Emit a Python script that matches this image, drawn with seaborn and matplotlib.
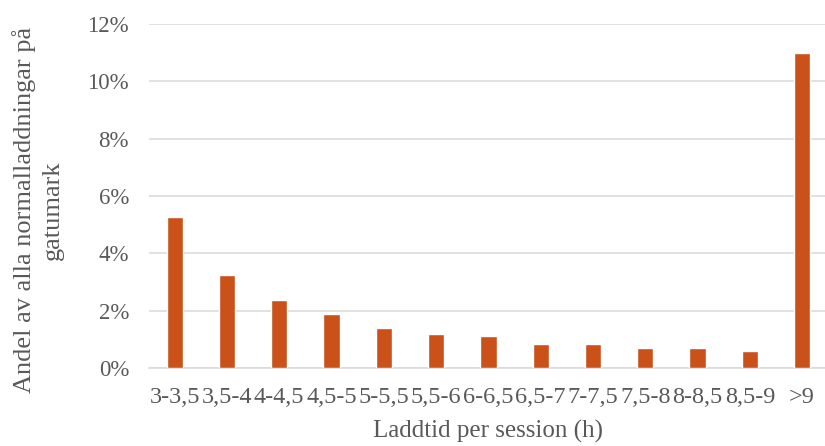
import matplotlib
matplotlib.use("Agg")
import matplotlib.pyplot as plt
import seaborn as sns
import pandas as pd
from matplotlib.ticker import PercentFormatter

# Share of street-side normal charging sessions by session duration
categories = ["3-3,5", "3,5-4", "4-4,5", "4,5-5", "5-5,5", "5,5-6", "6-6,5",
              "6,5-7", "7-7,5", "7,5-8", "8-8,5", "8,5-9", ">9"]
shares = [0.0527, 0.0325, 0.0237, 0.0188, 0.0140, 0.0119, 0.0113,
          0.0084, 0.0084, 0.0070, 0.0070, 0.0059, 0.1100]

df = pd.DataFrame({"Laddtid": categories, "Andel": shares})

sns.set_theme(style="white")
plt.rcParams["font.family"] = ["Liberation Serif", "DejaVu Serif"]

text_color = "#595959"
fig, ax = plt.subplots(figsize=(8.25, 4.46), dpi=100)
fig.subplots_adjust(left=0.18, right=1.004, top=0.946, bottom=0.175)

sns.barplot(data=df, x="Laddtid", y="Andel", color="#CA521A",
            saturation=1, width=0.31, ax=ax, zorder=3)

ax.set_ylim(0, 0.12)
ax.set_yticks([0, 0.02, 0.04, 0.06, 0.08, 0.10, 0.12])
ax.yaxis.set_major_formatter(PercentFormatter(1.0, decimals=0))
ax.set_xlim(-0.5, len(categories) - 0.5)

ax.grid(axis="y", color="#D9D9D9", linewidth=1.1, zorder=0)
for side in ["top", "right", "left"]:
    ax.spines[side].set_visible(False)
ax.spines["bottom"].set_color("#D9D9D9")
ax.spines["bottom"].set_linewidth(1.1)

ax.tick_params(axis="y", length=0, labelsize=16.5, colors=text_color, pad=14)
ax.tick_params(axis="x", length=0, labelsize=17.5, colors=text_color, pad=14)
ax.set_xlabel("Laddtid per session (h)", fontsize=18, color=text_color, labelpad=8)
ax.set_ylabel("Andel av alla normalladdningar på\ngatumark", fontsize=19,
              color=text_color, linespacing=1.35)
ax.yaxis.set_label_coords(-0.125, 0.46)

fig.savefig("out.png", dpi=100)
